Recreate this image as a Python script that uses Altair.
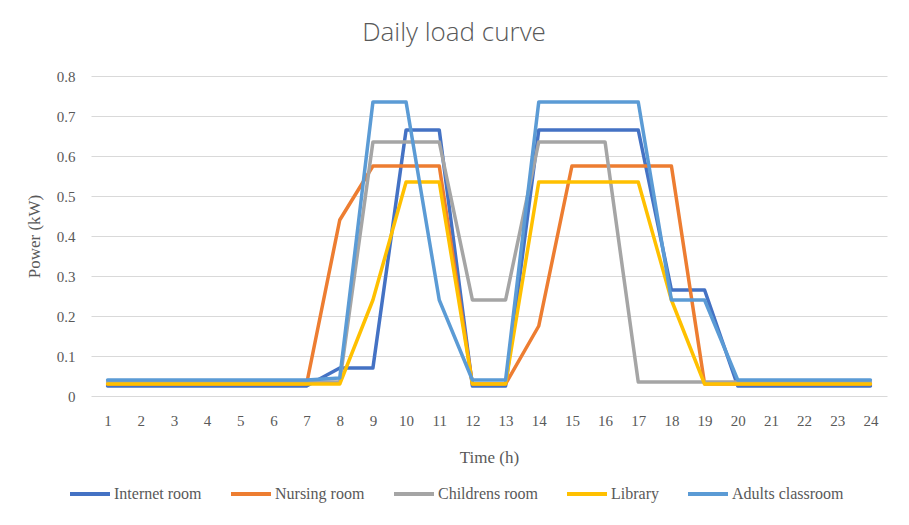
import altair as alt
import pandas as pd

hours = [1, 2, 3, 4, 5, 6, 7, 8, 9, 10, 11, 12, 13, 14, 15, 16, 17, 18, 19, 20, 21, 22, 23, 24]

series_names = ["Internet room", "Nursing room", "Childrens room", "Library", "Adults classroom"]
series_colors = ["#4472C4", "#ED7D31", "#A5A5A5", "#FFC000", "#5B9BD5"]

internet_room = [0.025, 0.025, 0.025, 0.025, 0.025, 0.025, 0.025, 0.07, 0.07, 0.665, 0.665, 0.025,
                 0.025, 0.665, 0.665, 0.665, 0.665, 0.265, 0.265, 0.025, 0.025, 0.025, 0.025, 0.025]
nursing_room = [0.03, 0.03, 0.03, 0.03, 0.03, 0.03, 0.03, 0.44, 0.575, 0.575, 0.575, 0.03,
                0.03, 0.175, 0.575, 0.575, 0.575, 0.575, 0.03, 0.03, 0.03, 0.03, 0.03, 0.03]
childrens_room = [0.035, 0.035, 0.035, 0.035, 0.035, 0.035, 0.035, 0.035, 0.635, 0.635, 0.635, 0.24,
                  0.24, 0.635, 0.635, 0.635, 0.035, 0.035, 0.035, 0.035, 0.035, 0.035, 0.035, 0.035]
library = [0.03, 0.03, 0.03, 0.03, 0.03, 0.03, 0.03, 0.03, 0.24, 0.535, 0.535, 0.03,
           0.03, 0.535, 0.535, 0.535, 0.535, 0.24, 0.03, 0.03, 0.03, 0.03, 0.03, 0.03]
adults_classroom = [0.04, 0.04, 0.04, 0.04, 0.04, 0.04, 0.04, 0.045, 0.735, 0.735, 0.24, 0.04,
                    0.04, 0.735, 0.735, 0.735, 0.735, 0.24, 0.24, 0.04, 0.04, 0.04, 0.04, 0.04]

y_ticks = [0, 0.1, 0.2, 0.3, 0.4, 0.5, 0.6, 0.7, 0.8]

all_values = [internet_room, nursing_room, childrens_room, library, adults_classroom]
rows = []
for name, vals in zip(series_names, all_values):
    for h, v in zip(hours, vals):
        rows.append({"series": name, "hour": h, "power": v})
df = pd.DataFrame(rows)

LABEL_FONT = "Liberation Serif"
TEXT_COLOR = "#595959"

x_enc = alt.X("hour:O", scale=alt.Scale(padding=0.5),
              axis=alt.Axis(title="Time (h)", labelAngle=0, ticks=False, domain=False, grid=False,
                            labelPadding=17, titlePadding=21))
y_enc = alt.Y("power:Q", scale=alt.Scale(domain=[0, 0.8], nice=False),
              axis=alt.Axis(title="Power (kW)", values=y_ticks, format=".1~f", ticks=False, domain=False,
                            grid=True, gridColor="#D9D9D9", gridWidth=1, labelPadding=16, titlePadding=13))
color_enc = alt.Color("series:N", scale=alt.Scale(domain=series_names, range=series_colors),
                      legend=alt.Legend(title=None, orient="none", direction="horizontal",
                                        legendX=-23, legendY=396, symbolType="stroke",
                                        symbolSize=1600, symbolStrokeWidth=4, columnPadding=21,
                                        labelOffset=2, columns=5))

base = alt.Chart(df)
layers = []
for name in series_names:
    layers.append(
        base.transform_filter(alt.datum.series == name)
        .mark_line(strokeWidth=3.5, strokeJoin="round", strokeCap="round")
        .encode(x=x_enc, y=y_enc, color=color_enc)
    )

chart = alt.layer(*layers).properties(
    width=796, height=320,
    title=alt.Title("Daily load curve", font="Open Sans", fontWeight=300, fontSize=26,
                    color=TEXT_COLOR, anchor="middle", dx=-35, offset=23),
    padding={"left": 83, "top": 68, "right": 14, "bottom": 121},
    autosize="none",
).configure_view(stroke=None).configure_axis(
    labelFont=LABEL_FONT, labelFontSize=15, labelColor=TEXT_COLOR,
    titleFont=LABEL_FONT, titleFontSize=17, titleColor=TEXT_COLOR, titleFontWeight="normal",
).configure_legend(
    labelFont=LABEL_FONT, labelFontSize=16, labelColor=TEXT_COLOR,
)

chart.save("out.html", embed_options={"renderer": "svg", "actions": False})
